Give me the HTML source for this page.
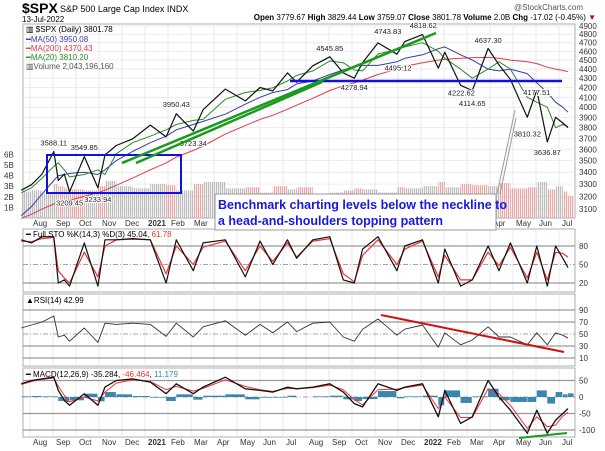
<!DOCTYPE html>
<html><head><meta charset="utf-8"><style>
body{margin:0;background:#fff;}
svg{display:block;font-family:"Liberation Sans",sans-serif;}
</style></head><body>
<svg id="c" width="605" height="451" viewBox="0 0 605 451">
<defs>
<pattern id="vup" width="2" height="4" patternUnits="userSpaceOnUse"><rect width="1.2" height="4" fill="#bdbdbd"/></pattern>
<pattern id="vdn" width="2" height="4" patternUnits="userSpaceOnUse"><rect width="1.2" height="4" fill="#e6a8a8"/></pattern>
</defs>
<text x="22" y="13" font-size="14" font-weight="bold">$SPX</text>
<text x="60" y="12" font-size="9">S&amp;P 500 Large Cap Index INDX</text>
<text x="22" y="22" font-size="8">13-Jul-2022</text>
<text x="583" y="10" font-size="8" fill="#555" text-anchor="end">@StockCharts.com</text>
<text x="596" y="20" font-size="8" text-anchor="end"><tspan font-weight="bold">Open</tspan> 3779.67 <tspan font-weight="bold">High</tspan> 3829.44 <tspan font-weight="bold">Low</tspan> 3759.07 <tspan font-weight="bold">Close</tspan> 3801.78 <tspan font-weight="bold">Volume</tspan> 2.0B <tspan font-weight="bold">Chg</tspan> -17.02 (-0.45%) <tspan fill="#c00">▼</tspan></text>
<g id="grid"></g>
<g id="marks"></g>
<g id="ann"></g>
</svg>
<script>
const dates=["2020-07-20","2020-08-03","2020-08-17","2020-09-02","2020-09-08","2020-09-16","2020-09-23","2020-10-12","2020-10-30","2020-11-09","2020-11-24","2020-12-15","2021-01-08","2021-01-29","2021-02-12","2021-03-04","2021-03-17","2021-04-16","2021-05-12","2021-06-01","2021-06-18","2021-07-07","2021-07-19","2021-08-10","2021-09-02","2021-09-20","2021-10-04","2021-10-15","2021-11-05","2021-11-30","2021-12-10","2022-01-03","2022-01-24","2022-02-02","2022-02-23","2022-03-08","2022-03-29","2022-04-13","2022-04-28","2022-05-20","2022-06-02","2022-06-16","2022-06-27","2022-07-06","2022-07-13"];
const close=[3250,3295,3385,3580,3330,3385,3237,3535,3270,3550,3635,3695,3825,3714,3934,3768,3975,4185,4063,4202,4166,4358,4258,4436,4537,4358,4300,4471,4697,4567,4712,4796,4410,4589,4225,4170,4632,4446,4287,3901,4176,3667,3900,3845,3801];
const ma20=[3230,3270,3350,3450,3480,3420,3360,3380,3420,3380,3560,3660,3720,3780,3830,3870,3880,4080,4150,4170,4200,4270,4330,4380,4490,4470,4390,4380,4570,4620,4650,4700,4600,4520,4400,4300,4400,4480,4400,4100,4050,4000,3800,3830,3810];
const ma50=[3050,3120,3220,3330,3370,3380,3390,3400,3380,3420,3500,3580,3660,3720,3780,3830,3860,3930,4030,4100,4150,4180,4240,4270,4340,4390,4430,4440,4440,4480,4520,4560,4630,4650,4560,4500,4400,4380,4400,4350,4250,4150,4050,4000,3950];
const ma200=[3030,3060,3100,3140,3150,3160,3170,3200,3230,3250,3290,3350,3420,3480,3530,3590,3630,3740,3820,3880,3920,3980,4020,4090,4170,4220,4250,4280,4340,4400,4430,4470,4500,4510,4520,4525,4530,4520,4500,4480,4460,4420,4400,4385,4370];
const volume=[2.5,2.6,2.4,3.2,3.0,2.8,2.7,2.6,3.0,3.5,3.0,2.8,3.2,3.1,2.6,3.2,3.4,2.8,2.9,2.4,3.0,2.7,2.9,2.3,2.4,2.6,2.8,2.7,2.4,2.9,2.8,3.0,3.4,2.9,3.2,3.1,3.0,3.3,2.8,2.9,3.4,2.7,3.0,2.5,2.1];
const stoK=[90,85,95,95,20,25,15,85,15,90,90,92,90,20,90,40,85,90,30,88,50,90,60,90,95,25,20,75,95,40,80,90,20,75,15,25,80,40,85,20,80,15,80,60,45];
const stoD=[88,87,92,94,40,28,20,70,30,80,90,91,90,35,80,50,78,88,40,80,55,85,62,88,92,35,22,65,90,50,75,88,30,65,25,25,70,48,78,28,70,25,70,68,62];
const rsi=[60,65,70,80,45,48,38,60,36,68,66,68,66,46,68,45,62,72,48,66,52,70,54,68,70,45,38,58,75,48,58,65,28,52,32,40,62,45,45,32,52,32,52,48,43];
const macd=[40,50,55,60,20,-10,-25,10,-25,30,50,55,45,10,40,10,30,60,25,20,15,30,25,30,40,15,-20,-30,40,20,30,40,-60,20,-80,-60,50,0,-40,-110,-40,-110,-70,-50,-35];
const signal=[38,47,53,58,32,5,-15,0,-12,15,42,52,47,22,32,18,26,52,32,22,17,26,25,28,36,22,-8,-24,22,24,28,36,-35,0,-62,-62,25,10,-25,-95,-60,-90,-85,-58,-46];
const priceTicks=[4900,4800,4700,4600,4500,4400,4300,4200,4100,4000,3900,3800,3700,3600,3500,3400,3300,3200,3100];
const volTicks=[1,2,3,4,5,6];
const monthLabels=["Aug","Sep","Oct","Nov","Dec","2021","Feb","Mar","Apr","May","Jun","Jul","Aug","Sep","Oct","Nov","Dec","2022","Feb","Mar","Apr","May","Jun","Jul"];
const peakLabels=[["3588.11",3588,"2020-09-02",-1],["3549.85",3550,"2020-10-12",-1],["3209.45",3209,"2020-09-23",1],["3233.94",3234,"2020-10-30",1],["3950.43",3950,"2021-02-12",-1],["3723.34",3723,"2021-03-04",1],["4545.85",4546,"2021-09-02",-1],["4278.94",4279,"2021-10-04",1],["4495.12",4495,"2021-12-01",1],["4743.83",4744,"2021-11-18",-1],["4818.62",4818,"2022-01-04",-1],["4222.62",4222,"2022-02-24",1],["4114.65",4114,"2022-03-08",1],["4637.30",4637,"2022-03-29",-1],["4177.51",4230,"2022-06-02",1],["3810.32",3810,"2022-05-20",1],["3636.87",3637,"2022-06-16",1]];

const NS="http://www.w3.org/2000/svg";
const L=23,R=575;
function x(d){const t=new Date(d+"T00:00:00Z");return 30+((t.getUTCFullYear()-2020)*12+t.getUTCMonth()-7+(t.getUTCDate()-1)/30.5)*23;}
function yP(v){return 26+400*Math.log(4900/v);}
function yV(v){return 218-v*10.6;}
function yS(v){return 246+(80-v)*0.617;}
function yR(v){return 322+(70-v)*0.6;}
function yM(v){return 397-v*0.33;}
function el(tag,attrs,parent){const e=document.createElementNS(NS,tag);for(const k in attrs)e.setAttribute(k,attrs[k]);(parent||document.getElementById('marks')).appendChild(e);return e;}
const grid=document.getElementById('grid');
const panels=[[24,218,'price-panel'],[229,292,'sto-panel'],[294,366,'rsi-panel'],[368,437,'macd-panel']];
panels.forEach(p=>{
  const r=el('rect',{x:L,y:p[0],width:R-L,height:p[1]-p[0],fill:'#fff',stroke:'#999','stroke-width':0.8},grid);
  
  
});
monthLabels.forEach((m,i)=>{
  const xx=30+i*23;
  panels.forEach(p=>el('line',{x1:xx,x2:xx,y1:p[0],y2:p[1],stroke:'#e4e4e4','stroke-width':0.8},grid));
  [226,445].forEach((yy,j)=>{
    const t=el('text',{x:xx+3,y:yy,'font-size':8,'font-weight':m.length==4?'bold':'normal',fill:'#333'},grid);
    t.textContent=m;
    
    
  });
});
priceTicks.forEach(v=>{
  el('line',{x1:L,x2:R,y1:yP(v),y2:yP(v),stroke:'#e8e8e8','stroke-width':0.8},grid);
  const t=el('text',{x:579,y:yP(v)+3,'font-size':8,fill:'#333'},grid);
  t.textContent=v;
  
  
});
volTicks.forEach(v=>{
  const t=el('text',{x:4,y:yV(v)+3,'font-size':8,fill:'#333'},grid);
  t.textContent=v+"B";
  
  
});
[[yS,[80,50,20]],[yR,[90,70,50,30,10]],[yM,[50,0,-50,-100]]].forEach(([f,ts])=>ts.forEach(v=>{
  const mid=(v==50&&f!==yM)||(v==0);
  el('line',{x1:L,x2:R,y1:f(v),y2:f(v),stroke:mid?'#888':'#999','stroke-width':mid?0.8:1.2,'stroke-dasharray':mid?'5,2,1,2':''},grid);
  const t=el('text',{x:579,y:f(v)+3,'font-size':8,fill:'#333'},grid);
  t.textContent=v;
  
  
}));
volume.forEach((v,i)=>{
  const x0=x(dates[i]),x1=i<dates.length-1?x(dates[i+1]):R-1;
  const up=i==0||close[i]>=close[i-1];
  const b=el('rect',{x:x0,y:yV(v),width:Math.max(1,x1-x0),height:218-yV(v),fill:up?'url(#vup)':'url(#vdn)'});
  
  
});
function line(arr,f,color,w,name){
  const pts=arr.map((v,i)=>x(dates[i]).toFixed(1)+","+f(v).toFixed(1)).join(" ");
  const p=el('polyline',{points:pts,fill:'none',stroke:color,'stroke-width':w,'stroke-linejoin':'round'});
  
  
}
line(ma200,yP,'#e03a4a',1,'ma200-line');
line(ma50,yP,'#3a3aa8',1,'ma50-line');
line(ma20,yP,'#2a8a2a',1,'ma20-line');
line(close,yP,'#111',1.2,'price-line');
line(stoD,yS,'#e33',1.2,'sto-d-line');
line(stoK,yS,'#111',1.2,'sto-k-line');
line(rsi,yR,'#333',0.9,'rsi-line');
macd.forEach((v,i)=>{
  const h=v-signal[i];
  const x0=x(dates[i]),x1=i<dates.length-1?x(dates[i+1]):R-1;
  const b=el('rect',{x:x0,y:Math.min(yM(0),yM(h)),width:Math.max(1,x1-x0-0.5),height:Math.abs(yM(h)-yM(0)),fill:'#3a86b0'});
  
  
});
line(signal,yM,'#e33',1,'macd-signal-line');
line(macd,yM,'#111',1.3,'macd-line');
peakLabels.forEach(p=>{
  const xx=x(p[2]),yy=yP(p[1])+(p[3]<0?-5:10);
  const t=el('text',{x:xx,y:yy,'font-size':7.5,'text-anchor':'middle',fill:'#222',stroke:'#fff','stroke-width':2,'paint-order':'stroke'});
  t.textContent=p[0];
  
  
});
</script>
<svg width="605" height="451" style="position:absolute;left:0;top:0" font-family="Liberation Sans, sans-serif">
<g font-size="8">
<text x="26" y="32">▥ $SPX (Daily) 3801.78</text>
<text x="26" y="42" fill="#3a3aa8">━MA(50) 3950.08</text>
<text x="26" y="51" fill="#e03a4a">━MA(200) 4370.43</text>
<text x="26" y="60" fill="#2a8a2a">━MA(20) 3810.20</text>
<text x="26" y="69" fill="#555">▥Volume 2,043,196,160</text>
</g>
<text x="26" y="237" font-size="8">━ Full STO %K(14,3) %D(3) 45.04, <tspan fill="#e33">61.78</tspan></text>
<text x="26" y="303" font-size="8">▲RSI(14) 42.99</text>
<text x="26" y="377" font-size="8">━ MACD(12,26,9) -35.284, <tspan fill="#e33">-46.464</tspan>, <tspan fill="#3a86b0">11.179</tspan></text>
<rect x="47" y="155" width="134" height="38" fill="none" stroke="#1010e0" stroke-width="2"/>
<line x1="290" y1="81" x2="562" y2="81" stroke="#1010e0" stroke-width="2.5"/>
<line x1="122" y1="163" x2="436" y2="33" stroke="#1a9a1a" stroke-width="2.5"/>
<line x1="136" y1="163" x2="322" y2="82" stroke="#1a9a1a" stroke-width="2.5"/>
<line x1="381" y1="315" x2="564" y2="352" stroke="#d01010" stroke-width="2"/>
<line x1="519" y1="438" x2="567" y2="433" stroke="#1a9a1a" stroke-width="2"/>
<line x1="497" y1="194" x2="515" y2="110" stroke="#999" stroke-width="1"/>
<line x1="500" y1="194" x2="516" y2="118" stroke="#999" stroke-width="1"/>
<rect x="215" y="194" width="281" height="36" fill="#fff" stroke="#999" stroke-width="1"/>
<text x="218" y="209" font-size="12.5" font-weight="bold" fill="#1818e0">Benchmark charting levels below the neckline to</text>
<text x="218" y="225" font-size="12.5" font-weight="bold" fill="#1818e0">a head-and-shoulders topping pattern</text>
</svg>
</body></html>
